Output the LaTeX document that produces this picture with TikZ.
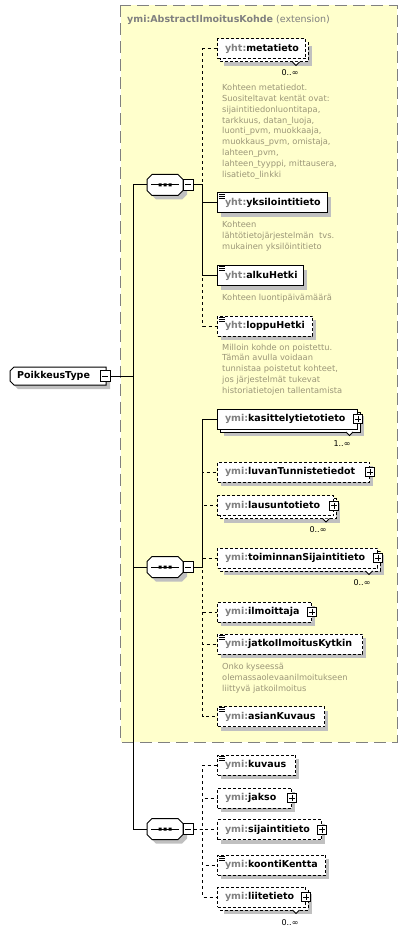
\documentclass[tikz,border=0pt]{standalone}
\usepackage{fontspec}
\setmainfont{DejaVu Sans}
\definecolor{yel}{RGB}{255,255,204}
\definecolor{yelborder}{RGB}{128,128,128}
\definecolor{shadc}{RGB}{192,192,192}
\definecolor{pfxc}{RGB}{128,128,128}
\definecolor{descc}{RGB}{155,150,120}
\newcommand\pfx[1]{{\color{pfxc}#1}}
\tikzset{
  elem/.style={draw=black, fill=white, line width=1pt, rectangle, minimum height=20pt,
    inner xsep=7.5pt, inner ysep=0pt, anchor=west,
    font=\fontsize{9.5}{11}\selectfont\bfseries, text height=7.5pt, text depth=2pt},
  opt/.style={dash pattern=on 3pt off 2pt},
  req/.style={solid},
  conn/.style={line width=1pt, draw=black},
  optconn/.style={conn, dash pattern=on 3pt off 3pt},
  desctext/.style={anchor=north west, align=left, font=\fontsize{8.3}{10.85}\selectfont, text=descc, inner sep=0pt},
  mult/.style={anchor=base, font=\fontsize{8}{9}\selectfont, inner sep=0pt},
  minusbox/.style={draw=black, fill=white, line width=1pt, minimum width=10pt, minimum height=11pt, inner sep=0pt},
  plusbox/.style={draw=black, fill=white, line width=0.8pt, minimum size=9pt, inner sep=0pt},
  seqanchor/.style={minimum width=36pt, minimum height=21pt, inner sep=0pt}
}
% shadow for a single element box (yc, W)
\newcommand\shd[2]{\fill[shadc] (221,#1-6) rectangle (221+#2,#1+14);}
% shadow for stacked element (yc, W)
\newcommand\shdst[2]{\fill[shadc] (224,#1-3) rectangle (224+#2,#1+17);}
% back box of a stacked element (yc, W, style)
\newcommand\backbox[3]{\draw[#3, fill=white, line width=1pt] (220,#1-7) rectangle (220+#2,#1+13);}
% notch under a stacked element (x, yc)
\newcommand\notch[2]{\draw[line width=0.8pt, fill=white] (#1-3.5,#2+13) -- (#1,#2+16.5) -- (#1+3.5,#2+13);}
% element node: name, yc, W, style, content
\newcommand\enode[5]{\node[elem,#4] (#1) at (217,#2) {\hbox to \dimexpr#3pt-15pt\relax{#5\hfil}};}
\newcommand\docicon[1]{\draw[line width=0.8pt] ([shift={(2,1.5)}]#1.north west) -- ++(6,0)
   ([shift={(2,3.5)}]#1.north west) -- ++(6,0) ([shift={(2,5.5)}]#1.north west) -- ++(6,0);}
\newcommand\plusicon[2]{\node[plusbox] (#1) at (#2.east) {};
   \draw[line width=0.8pt] (#1.center) +(-3,0) -- +(3,0) +(0,-3) -- +(0,3);}
\newcommand\octa[3]{\path[#3] (#1-13,#2-10.5) -- (#1+13,#2-10.5) -- (#1+18,#2-5.5) -- (#1+18,#2+5.5)
   -- (#1+13,#2+10.5) -- (#1-13,#2+10.5) -- (#1-18,#2+5.5) -- (#1-18,#2-5.5) -- cycle;}
\newcommand\seqnode[3]{% name, x, y
  \octa{#2+4}{#3+4}{fill=shadc}
  \octa{#2}{#3}{draw=black, fill=white, line width=1pt}
  \node[seqanchor] (#1) at (#2,#3) {};
  \draw[line width=1pt] (#1.center) +(-14,0) -- +(14,0);
  \fill (#1.center) +(-6.5,-1.5) rectangle +(-3.5,1.5) +(-1.5,-1.5) rectangle +(1.5,1.5) +(3.5,-1.5) rectangle +(6.5,1.5);
  \node[minusbox] (#1m) at (#2+23,#3) {};
  \draw[line width=1pt] (#1m.center) +(-3,0) -- +(3,0);}
\begin{document}
\begin{tikzpicture}[x=1pt,y=-1pt]
\useasboundingbox (0,0) rectangle (408,933);
% extension box
\draw[line width=1pt, draw=yelborder, fill=yel, dash pattern=on 12pt off 6pt] (120.5,5.5) rectangle (397,742);
\node[anchor=base west, inner sep=0pt, font=\fontsize{9.5}{11}\selectfont, text=pfxc] (title) at (127,23)
  {\textbf{ymi:AbstractIlmoitusKohde} (extension)};

% PoikkeusType
\fill[shadc] (18,371) -- (110,371) -- (110,389) -- (18,389) -- (14,385) -- (14,375) -- cycle;
\draw[line width=1pt, fill=white] (14,367) -- (106,367) -- (106,385) -- (14,385) -- (10,381) -- (10,371) -- cycle;
\node[anchor=west, inner xsep=7pt, inner ysep=0pt, minimum height=18pt, font=\fontsize{9.5}{11}\selectfont\bfseries,
  text height=7.5pt, text depth=2pt] (pt) at (10,376) {\hbox to 82pt{PoikkeusType\hfil}};
\node[minusbox] (ptm) at (105,376) {};
\draw[line width=1pt] (ptm.center) +(-3,0) -- +(3,0);

% sequences
\seqnode{s1}{165}{185}
\seqnode{s2}{165}{567}
\seqnode{s3}{165}{829}

% ---- sequence 1 children
\shdst{49}{88}\backbox{49}{88}{opt}\notch{296}{49}
\enode{meta}{49}{88}{opt}{\pfx{yht:}metatieto}
\node[mult] (metam) at (290,75.5) {0..∞};
\node[desctext] (metad) at (222,84) {Kohteen metatiedot.\\Suositeltavat kentät ovat:\\sijaintitiedonluontitapa,\\tarkkuus, datan\_luoja,\\luonti\_pvm, muokkaaja,\\muokkaus\_pvm, omistaja,\\lahteen\_pvm,\\lahteen\_tyyppi, mittausera,\\lisatieto\_linkki};

\shd{203}{110}
\enode{yksi}{203}{110}{req}{\pfx{yht:}yksilointitieto}\docicon{yksi}
\node[desctext] (yksid) at (222,221) {Kohteen\\lähtötietojärjestelmän~ tvs.\\mukainen yksilöintitieto};

\shd{275.5}{86}
\enode{alku}{275.5}{86}{req}{\pfx{yht:}alkuHetki}\docicon{alku}
\node[desctext] (alkud) at (222,294) {Kohteen luontipäivämäärä};

\shd{326}{95}
\enode{loppu}{326}{95}{opt}{\pfx{yht:}loppuHetki}\docicon{loppu}
\node[desctext] (loppud) at (222,343.5) {Milloin kohde on poistettu.\\Tämän avulla voidaan\\tunnistaa poistetut kohteet,\\jos järjestelmät tukevat\\historiatietojen tallentamista};

% ---- sequence 2 children
\shdst{419}{140}\backbox{419}{140}{req}\notch{349.5}{419}
\enode{kasi}{419}{140}{req}{\pfx{ymi:}kasittelytietotieto}\plusicon{kasip}{kasi}
\node[mult] (kasim) at (342,446.5) {1..∞};

\shd{472}{152}
\enode{luvan}{472}{152}{opt}{\pfx{ymi:}luvanTunnistetiedot}\plusicon{luvanp}{luvan}

\shdst{505.5}{116}\backbox{505.5}{116}{opt}\notch{326}{505.5}
\enode{laus}{505.5}{116}{opt}{\pfx{ymi:}lausuntotieto}\plusicon{lausp}{laus}
\node[mult] (lausm) at (318,532) {0..∞};

\shdst{558}{160}\backbox{558}{160}{opt}\notch{369}{558}
\enode{toim}{558}{160}{opt}{\pfx{ymi:}toiminnanSijaintitieto}\plusicon{toimp}{toim}
\node[mult] (toimm) at (362,585.5) {0..∞};

\shd{612}{94}
\enode{ilmo}{612}{94}{opt}{\pfx{ymi:}ilmoittaja}\plusicon{ilmop}{ilmo}

\shd{644}{145}
\enode{jatko}{644}{145}{opt}{\pfx{ymi:}jatkoIlmoitusKytkin}\docicon{jatko}
\node[desctext] (jatkod) at (222,663) {Onko kyseessä\\olemassaolevaanilmoitukseen\\liittyvä jatkoilmoitus};

\shd{716.5}{107}
\enode{asian}{716.5}{107}{opt}{\pfx{ymi:}asianKuvaus}\docicon{asian}

% ---- sequence 3 children
\shd{765}{78}
\enode{kuvaus}{765}{78}{opt}{\pfx{ymi:}kuvaus}\docicon{kuvaus}

\shd{798}{74}
\enode{jakso}{798}{74}{opt}{\pfx{ymi:}jakso}\plusicon{jaksop}{jakso}

\shd{829.5}{104}
\enode{sij}{829.5}{104}{opt}{\pfx{ymi:}sijaintitieto}\plusicon{sijp}{sij}

\shd{865}{108}
\enode{koonti}{865}{108}{opt}{\pfx{ymi:}koontiKentta}\docicon{koonti}

\shdst{897}{88}\backbox{897}{88}{opt}\notch{296}{897}
\enode{liite}{897}{88}{opt}{\pfx{ymi:}liitetieto}\plusicon{liitep}{liite}
\node[mult] (liitem) at (290,925.5) {0..∞};

% ---- connectors
\coordinate (trunk) at (133,376);
\draw[conn] (ptm.east) -- (trunk);
\draw[conn] (trunk) |- (s1.west);
\draw[conn] (trunk) |- (s2.west);
\draw[conn] (trunk) |- (s3.west);

\draw[optconn] (s1m.east) -- ++(9,0) |- (meta.west);
\draw[optconn] (s1m.east) -- ++(9,0) |- (loppu.west);
\draw[conn] (s1m.east) -- ++(9,0) |- (yksi.west);
\draw[conn] (s1m.east) -- ++(9,0) |- (alku.west);

\draw[optconn] (s2m.east) -- ++(9,0) |- (luvan.west);
\draw[optconn] (s2m.east) -- ++(9,0) |- (laus.west);
\draw[optconn] (s2m.east) -- ++(9,0) |- (toim.west);
\draw[optconn] (s2m.east) -- ++(9,0) |- (ilmo.west);
\draw[optconn] (s2m.east) -- ++(9,0) |- (jatko.west);
\draw[optconn] (s2m.east) -- ++(9,0) |- (asian.west);
\draw[conn] (s2m.east) -- ++(9,0) |- (kasi.west);

\draw[optconn] (s3m.east) -- ++(9,0) |- (kuvaus.west);
\draw[optconn] (s3m.east) -- ++(9,0) |- (jakso.west);
\draw[optconn] (s3m.east) -- ++(9,0) |- (sij.west);
\draw[optconn] (s3m.east) -- ++(9,0) |- (koonti.west);
\draw[optconn] (s3m.east) -- ++(9,0) |- (liite.west);
\end{tikzpicture}
\end{document}
